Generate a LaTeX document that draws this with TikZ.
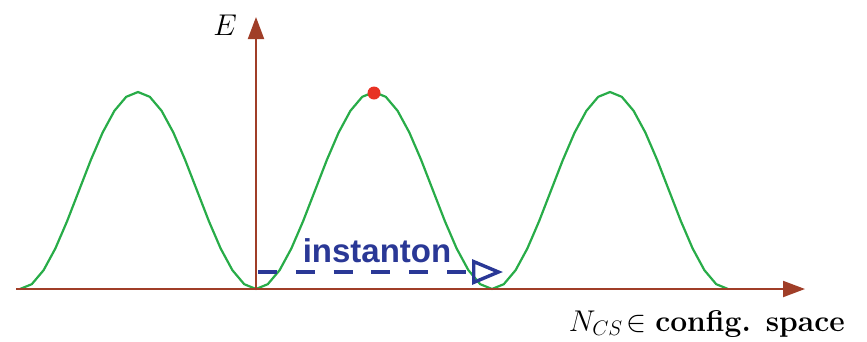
\documentclass[tikz,border=0pt]{standalone}
\usepackage{fix-cm}
\usepackage{fontspec}
\newfontfamily\instfont{Liberation Sans}
\usetikzlibrary{arrows.meta}
\definecolor{axiscol}{RGB}{160,62,40}
\definecolor{curvecol}{RGB}{40,172,72}
\definecolor{instcol}{RGB}{42,56,150}
\definecolor{dotcol}{RGB}{232,50,36}
\tikzset{
  axis/.style={draw=axiscol, line width=2pt, -{Triangle[length=22pt,width=16pt]}},
  potential/.style={draw=curvecol, line width=2.2pt, line join=round},
  instarrow/.style={draw=instcol, line width=3.4pt, dash pattern=on 19pt off 18.8pt,
    -{Triangle[open,length=31pt,width=25pt,line width=3.4pt]}},
  lbl/.style={inner sep=0pt, font=\fontsize{30}{34}\selectfont},
}
\begin{document}
\begin{tikzpicture}[x=1pt,y=-1pt]
\useasboundingbox (0,0) rectangle (867,341);
% axes
\coordinate (xstart) at (16,289);
\coordinate (xend) at (805,289);
\coordinate (ystart) at (256,289);
\coordinate (yend) at (256,17);
% potential curve
\draw[potential] plot[domain=20:728, samples=61]
  (\x, {289 - 98.5*(1-cos(1.525424*(\x-20)))});
\draw[axis] (xstart) -- (xend);
\draw[axis] (ystart) -- (yend);
% sphaleron dot
\node[circle, fill=dotcol, minimum size=13pt, inner sep=0pt] (dot) at (374,93) {};
% instanton
\coordinate (istart) at (258,272);
\coordinate (iend) at (503,272);
\draw[instarrow] (istart) -- (iend);
\node[anchor=base, inner sep=0pt, text=instcol, font=\instfont\bfseries\fontsize{33}{36}\selectfont] (inst) at (377,262) {instanton};
% labels
\node[lbl, anchor=base] (E) at (225,35) {$E$};
\node[lbl, anchor=base east] (N) at (845,331) {$N_{CS}\!\in$ \textbf{config. space}};
\end{tikzpicture}
\end{document}
